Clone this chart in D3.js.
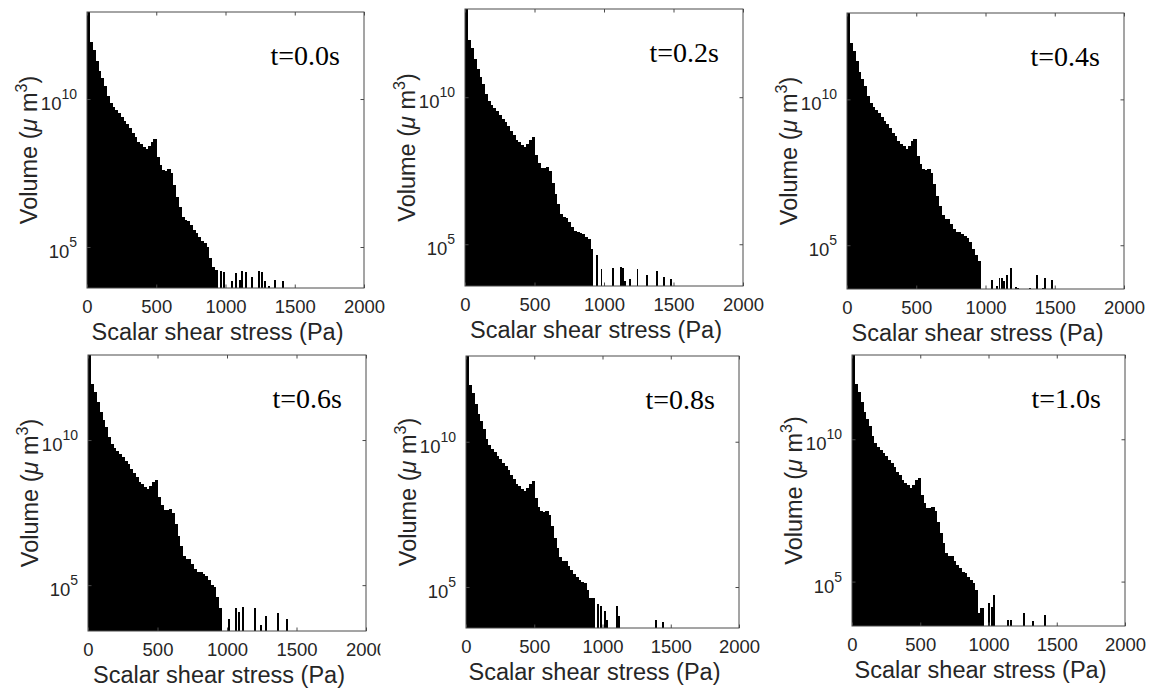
<!DOCTYPE html>
<html>
<head>
<meta charset="utf-8">
<script src="https://cdn.jsdelivr.net/npm/d3@7"></script>
<style>
  html, body { margin: 0; padding: 0; background: #fff; }
  svg { display: block; }
</style>
</head>
<body>
<svg id="chart" width="1152" height="691"></svg>
<script>
// ---------------- DATA ----------------
// Histogram of scalar shear stress; bins of 20 Pa starting at 0 Pa.
// Values are log10(Volume in µm^3).
const binWidth = 20;
const xTicks = [0, 500, 1000, 1500, 2000];
const yTicks = [1e5, 1e10];
const yTickExponents = ["5", "10"];
const titles = ["t=0.0s", "t=0.2s", "t=0.4s", "t=0.6s", "t=0.8s", "t=1.0s"];
const xLabel = "Scalar shear stress (Pa)";

const body_t00 = [13.2, 11.94, 11.66, 11.30, 10.95, 10.70, 10.45, 10.10, 9.88, 9.74, 9.63, 9.52, 9.40, 9.27, 9.16, 9.01, 8.86, 8.73, 8.56, 8.48, 8.39, 8.30, 8.41, 8.56, 8.64, 8.05, 7.77, 7.60, 7.58, 7.62, 7.49, 7.09, 6.70, 6.36, 6.02, 5.91, 5.89, 5.74, 5.57, 5.46, 5.33, 5.21, 5.12, 5.01, 4.62, 4.34, 4.22];
const body_t02 = [13.2, 11.94, 11.66, 11.30, 10.95, 10.70, 10.45, 10.10, 9.88, 9.74, 9.63, 9.52, 9.40, 9.27, 9.16, 9.01, 8.86, 8.73, 8.56, 8.48, 8.39, 8.30, 8.41, 8.56, 8.64, 8.05, 7.77, 7.60, 7.58, 7.62, 7.49, 7.09, 6.70, 6.36, 6.02, 5.91, 5.89, 5.74, 5.57, 5.46, 5.40, 5.38, 5.36, 5.25, 5.19, 4.85];
const body_t04 = [13.2, 11.94, 11.66, 11.30, 10.95, 10.70, 10.45, 10.10, 9.88, 9.74, 9.63, 9.52, 9.40, 9.27, 9.16, 9.01, 8.86, 8.73, 8.56, 8.48, 8.39, 8.30, 8.41, 8.56, 8.64, 8.05, 7.77, 7.60, 7.58, 7.62, 7.49, 7.09, 6.70, 6.36, 6.02, 5.91, 5.89, 5.74, 5.57, 5.46, 5.46, 5.37, 5.30, 5.25, 5.10, 4.86, 4.66, 4.45];
const body_t06 = [13.2, 11.94, 11.66, 11.30, 10.95, 10.70, 10.45, 10.10, 9.88, 9.74, 9.63, 9.52, 9.40, 9.27, 9.16, 9.01, 8.86, 8.73, 8.56, 8.48, 8.39, 8.30, 8.41, 8.56, 8.64, 8.05, 7.77, 7.60, 7.58, 7.62, 7.49, 7.09, 6.70, 6.36, 6.02, 5.91, 5.89, 5.74, 5.57, 5.46, 5.46, 5.38, 5.30, 5.17, 5.00, 4.95, 4.60, 4.20];
const body_t08 = [13.2, 11.94, 11.66, 11.30, 10.95, 10.70, 10.45, 10.10, 9.88, 9.74, 9.63, 9.52, 9.40, 9.27, 9.16, 9.01, 8.86, 8.73, 8.56, 8.48, 8.39, 8.30, 8.41, 8.56, 8.64, 8.05, 7.77, 7.60, 7.58, 7.62, 7.49, 7.09, 6.70, 6.36, 6.02, 5.91, 5.89, 5.74, 5.57, 5.46, 5.33, 5.25, 5.19, 5.13, 4.91, 4.62, 4.62];
const body_t10 = [13.2, 11.94, 11.66, 11.30, 10.95, 10.70, 10.45, 10.10, 9.88, 9.74, 9.63, 9.52, 9.40, 9.27, 9.16, 9.01, 8.86, 8.73, 8.56, 8.48, 8.39, 8.30, 8.41, 8.56, 8.64, 8.05, 7.77, 7.60, 7.58, 7.62, 7.49, 7.09, 6.70, 6.36, 6.02, 5.91, 5.89, 5.74, 5.57, 5.46, 5.33, 5.29, 5.15, 5.06, 4.94, 4.71, 3.89, 4.06];

// Isolated tail bars: stress position (Pa) and log10(volume)
const tailPos_t00 = [970, 987, 1044, 1073, 1102, 1121, 1145, 1194, 1244, 1264, 1283, 1314, 1357, 1413];
const tailExp_t00 = [4.20, 4.17, 3.86, 4.11, 3.89, 4.20, 4.17, 3.98, 4.20, 4.14, 3.84, 3.68, 3.89, 3.86];
const tailPos_t02 = [948, 982, 1068, 1119, 1136, 1152, 1186, 1241, 1309, 1381, 1429, 1481];
const tailExp_t02 = [4.65, 4.17, 4.19, 4.22, 4.19, 3.74, 3.83, 4.17, 3.97, 4.08, 3.89, 3.83];
const tailPos_t04 = [1046, 1082, 1101, 1118, 1135, 1154, 1185, 1221, 1238, 1322, 1375, 1413, 1428, 1478];
const tailExp_t04 = [3.81, 3.60, 3.89, 3.89, 3.79, 3.97, 4.22, 3.57, 3.55, 3.55, 3.97, 3.54, 3.86, 3.82];
const tailPos_t06 = [1016, 1064, 1085, 1117, 1200, 1244, 1280, 1364, 1429];
const tailExp_t06 = [3.85, 4.22, 4.08, 4.25, 4.20, 3.64, 3.94, 4.05, 3.83];
const tailPos_t08 = [969, 987, 1018, 1031, 1109, 1123, 1392, 1446];
const tailExp_t08 = [4.40, 4.35, 4.16, 3.87, 4.34, 3.99, 3.87, 3.80];
const tailPos_t10 = [1005, 1023, 1040, 1145, 1162, 1262, 1328, 1413];
const tailExp_t10 = [4.26, 4.12, 4.53, 3.66, 3.66, 3.89, 3.62, 3.83];

const bodies = [body_t00, body_t02, body_t04, body_t06, body_t08, body_t10];
const tailPositions = [tailPos_t00, tailPos_t02, tailPos_t04, tailPos_t06, tailPos_t08, tailPos_t10];
const tailExponents = [tailExp_t00, tailExp_t02, tailExp_t04, tailExp_t06, tailExp_t08, tailExp_t10];

// ---------------- LAYOUT (pixel boxes of each axes, log10 y-limits) ----------------
const layout = [
  {left: 87,  right: 364,  top: 12,  bottom: 288, yMinExp: 3.615, yMaxExp: 12.94},
  {left: 465, right: 743,  top: 9,   bottom: 286, yMinExp: 3.58,  yMaxExp: 13.0},
  {left: 847, right: 1124, top: 13,  bottom: 289, yMinExp: 3.50,  yMaxExp: 12.96},
  {left: 88,  right: 366,  top: 355, bottom: 631, yMinExp: 3.42,  yMaxExp: 12.93, clipRight: 380.5},
  {left: 466, right: 739,  top: 356, bottom: 628, yMinExp: 3.59,  yMaxExp: 12.95},
  {left: 852, right: 1125, top: 355, bottom: 626, yMinExp: 3.44,  yMaxExp: 12.96}
];

const sans = "'Liberation Sans', Arial, sans-serif";
const serif = "'Liberation Serif', 'Times New Roman', serif";
const textColor = "#262626";
const axisColor = "#4a4a4a";
const tickLen = 3.5;

const svg = d3.select("#chart");
const defs = svg.append("defs");

layout.forEach((L, i) => {
  const x = d3.scaleLinear().domain([0, 2000]).range([L.left, L.right]);
  const y = d3.scaleLog().domain([Math.pow(10, L.yMinExp), Math.pow(10, L.yMaxExp)]).range([L.bottom, L.top]);

  const g = svg.append("g");
  if (L.clipRight) {
    defs.append("clipPath").attr("id", "panelclip" + i)
      .append("rect").attr("x", 0).attr("y", L.top - 20).attr("width", L.clipRight).attr("height", 400);
    g.attr("clip-path", "url(#panelclip" + i + ")");
  }

  defs.append("clipPath").attr("id", "plotclip" + i)
    .append("rect").attr("x", L.left).attr("y", L.top)
    .attr("width", L.right - L.left).attr("height", L.bottom - L.top);

  const plot = g.append("g").attr("clip-path", "url(#plotclip" + i + ")");

  // body bars (contiguous bins)
  const bodyData = bodies[i].map((e, k) => ({x0: k * binWidth, x1: (k + 1) * binWidth, v: Math.pow(10, e)}));
  plot.selectAll("rect.body").data(bodyData).enter().append("rect")
    .attr("class", "body")
    .attr("x", d => x(d.x0))
    .attr("width", d => x(d.x1) - x(d.x0) + 0.6)
    .attr("y", d => y(d.v))
    .attr("height", d => L.bottom - y(d.v))
    .attr("fill", "#000")
    .attr("shape-rendering", "crispEdges");

  // isolated tail bars
  const tailData = tailPositions[i].map((p, k) => ({p: p, v: Math.pow(10, tailExponents[i][k])}));
  const tw = binWidth * 0.7;
  plot.selectAll("rect.tail").data(tailData).enter().append("rect")
    .attr("class", "tail")
    .attr("x", d => x(d.p - tw / 2))
    .attr("width", d => x(d.p + tw / 2) - x(d.p - tw / 2))
    .attr("y", d => y(d.v))
    .attr("height", d => L.bottom - y(d.v))
    .attr("fill", "#000")
    .attr("shape-rendering", "crispEdges");

  // axes (inward ticks on all four sides)
  const axB = g.append("g").attr("transform", `translate(0,${L.bottom})`)
    .call(d3.axisBottom(x).tickValues(xTicks).tickSizeInner(-tickLen).tickSizeOuter(0).tickPadding(12).tickFormat(d3.format("d")));
  const axT = g.append("g").attr("transform", `translate(0,${L.top})`)
    .call(d3.axisTop(x).tickValues(xTicks).tickSizeInner(-tickLen).tickSizeOuter(0).tickFormat(""));
  const axL = g.append("g").attr("transform", `translate(${L.left},0)`)
    .call(d3.axisLeft(y).tickValues(yTicks).tickSizeInner(-tickLen).tickSizeOuter(0).tickFormat(""));
  const axR = g.append("g").attr("transform", `translate(${L.right},0)`)
    .call(d3.axisRight(y).tickValues(yTicks).tickSizeInner(-tickLen).tickSizeOuter(0).tickFormat(""));
  [axB, axT, axL, axR].forEach(a => {
    a.select(".domain").remove();
    a.selectAll(".tick line").attr("stroke", axisColor).attr("stroke-width", 1);
  });
  axB.selectAll(".tick text")
    .attr("fill", textColor).attr("font-family", sans).attr("font-size", "18.5px");

  // y tick labels 10^n
  yTicks.forEach((v, k) => {
    const t = g.append("text")
      .attr("x", L.left - 10)
      .attr("y", y(v) + 11)
      .attr("text-anchor", "end")
      .attr("fill", textColor)
      .attr("font-family", sans)
      .attr("font-size", "18.5px");
    t.append("tspan").text("10");
    t.append("tspan").attr("dy", -11).attr("font-size", "14px").text(yTickExponents[k]);
  });

  // box
  g.append("rect")
    .attr("x", L.left).attr("y", L.top)
    .attr("width", L.right - L.left).attr("height", L.bottom - L.top)
    .attr("fill", "none").attr("stroke", axisColor).attr("stroke-width", 1);

  // x label
  g.append("text")
    .attr("x", (L.left + L.right) / 2 - 8)
    .attr("y", L.bottom + 52)
    .attr("text-anchor", "middle")
    .attr("fill", textColor)
    .attr("font-family", sans)
    .attr("font-size", "23.5px")
    .text(xLabel);

  // y label
  const yl = g.append("text")
    .attr("transform", `translate(${L.left - 50},${(L.top + L.bottom) / 2}) rotate(-90)`)
    .attr("text-anchor", "middle")
    .attr("fill", textColor)
    .attr("font-family", sans)
    .attr("font-size", "23.5px");
  yl.append("tspan").text("Volume (");
  yl.append("tspan").attr("font-style", "italic").text("\u03BC");
  yl.append("tspan").text(" m");
  yl.append("tspan").attr("dy", -10).attr("font-size", "16px").text("3");
  yl.append("tspan").attr("dy", 10).text(")");

  // title inside plot
  g.append("text")
    .attr("x", L.right - 24)
    .attr("y", L.top + 53)
    .attr("text-anchor", "end")
    .attr("fill", "#000")
    .attr("font-family", serif)
    .attr("font-size", "28px")
    .text(titles[i]);
});
</script>
</body>
</html>
